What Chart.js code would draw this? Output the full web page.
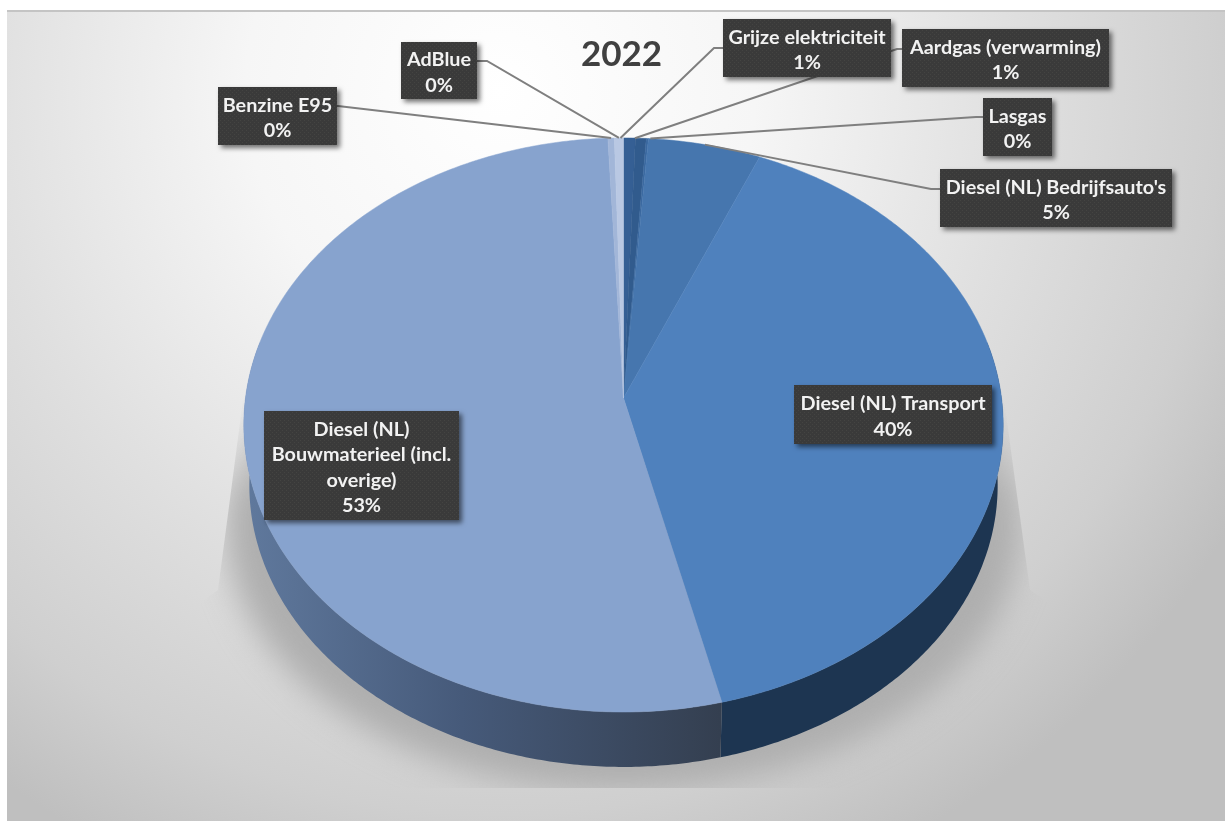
<!DOCTYPE html>
<html>
<head>
<meta charset="utf-8">
<title>2022</title>
<script src="https://cdn.jsdelivr.net/npm/chart.js@4"></script>
<style>
    html, body { margin: 0; padding: 0; background: #fff; overflow: hidden; }
    #frame {
        position: absolute; left: 7px; top: 10px; width: 1218px; height: 811px;
        border-top: 2px solid #c4c4c4; box-sizing: border-box;
        background: radial-gradient(ellipse 850px 850px at 493px 80px, #ffffff 0%, #f6f6f6 30%, #e0e0e0 60%, #cfcfcf 85%, #bfbfbf 100%);
    }
    #chart-wrap { position: absolute; left: 0; top: 0; width: 1225px; height: 821px; }
</style>
</head>
<body>
<div id="frame"></div>
<div id="chart-wrap"><canvas id="pie"></canvas></div>
<script>
const categories = ['Grijze elektriciteit', 'Aardgas (verwarming)', 'Lasgas', "Diesel (NL) Bedrijfsauto's",
    'Diesel (NL) Transport', 'Diesel (NL) Bouwmaterieel (incl. overige)', 'Benzine E95', 'AdBlue'];
const values = [0.55, 0.5, 0.1, 5.25, 39.8, 53.08, 0.3, 0.42];
const percentLabels = ['1%', '1%', '0%', '5%', '40%', '53%', '0%', '0%'];
const sliceColors = ['#355f94', '#315b8d', '#3a689f', '#4676ae', '#4f81bd', '#87a3ce', '#a2b6d8', '#b9c8e3'];
const sideColors = ['#16263c', '#182a42', '#1a2d46', '#1b304c', '#1d3551', null, '#5c7499', '#6a85ad'];

// label boxes: x, y, w, h, wrapped text lines, leader elbow, nudge of the leader end
const labelLayout = [
    { x: 723, y: 19, w: 168, h: 58, lines: ['Grijze elektriciteit'], elbow: [714, 48], nudge: [-9, 0] },
    { x: 902, y: 29, w: 207, h: 58, lines: ['Aardgas (verwarming)'], elbow: [897, 49], nudge: [-6, 0] },
    { x: 983, y: 98, w: 69, h: 58, lines: ['Lasgas'], elbow: [976, 117], nudge: [3, 0] },
    { x: 940, y: 169, w: 232, h: 58, lines: ["Diesel (NL) Bedrijfsauto's"], elbow: [931, 189], nudge: [0, 0] },
    { x: 794, y: 385, w: 198, h: 59, lines: ['Diesel (NL) Transport'] },
    { x: 264, y: 411, w: 195, h: 109, lines: ['Diesel (NL)', 'Bouwmaterieel (incl.', 'overige)'] },
    { x: 218, y: 87, w: 119, h: 58, lines: ['Benzine E95'], elbow: [338, 106], nudge: [0, 0] },
    { x: 401, y: 42, w: 76, h: 57, lines: ['AdBlue'], elbow: [487, 61], nudge: [0, 0] }
];

// perspective of the pie top: apex at (cx, cy)
const pieTop = { cx: 623.5, cy: 398, k: 378, m: 284.5, p: -0.094 };
const pieBottom = { cx: 623.5, cy: 459, k: 372.5, m: 279, p: -0.094 };
const pieShadow = { cx: 623.5, cy: 525, k: 398, m: 266, p: 0 };

function project(view, angle) {
    const u = Math.cos(angle);
    const v = Math.sin(angle);
    const w = 1 + view.p * v;
    return [view.cx + view.k * u / w, view.cy + view.m * v / w];
}

function traceArc(ctx, view, from, to, moveFirst) {
    const steps = Math.max(2, Math.ceil(Math.abs(to - from) / 0.01));
    for (let i = 0; i <= steps; i++) {
        const pt = project(view, from + (to - from) * i / steps);
        if (i === 0 && moveFirst) ctx.moveTo(pt[0], pt[1]);
        else ctx.lineTo(pt[0], pt[1]);
    }
}

function drawShadow(ctx) {
    ctx.save();
    ctx.beginPath();
    ctx.moveTo(243, 400);
    ctx.lineTo(218, 590);
    ctx.lineTo(150, 640);
    ctx.lineTo(150, 788);
    ctx.lineTo(1100, 788);
    ctx.lineTo(1100, 640);
    ctx.lineTo(1030, 590);
    ctx.lineTo(1004, 400);
    ctx.closePath();
    ctx.clip();
    const fade = ctx.createLinearGradient(0, 410, 0, 500);
    fade.addColorStop(0, 'rgba(174,174,174,0.35)');
    fade.addColorStop(1, 'rgba(174,174,174,1)');
    ctx.filter = 'blur(16px)';
    ctx.fillStyle = fade;
    ctx.beginPath();
    traceArc(ctx, pieShadow, 0, Math.PI * 2, true);
    ctx.closePath();
    ctx.fill();
    ctx.restore();
}

function drawSides(ctx, arcs) {
    arcs.forEach((arc, i) => {
        const from = Math.max(arc.startAngle, -0.2);
        const to = Math.min(arc.endAngle, Math.PI + 0.2);
        if (to <= from) return;
        let fill = sideColors[i];
        if (!fill) {
            fill = ctx.createLinearGradient(250, 0, 720, 0);
            fill.addColorStop(0, '#5f789c');
            fill.addColorStop(0.45, '#465a7a');
            fill.addColorStop(1, '#343f50');
        }
        ctx.fillStyle = fill;
        ctx.beginPath();
        traceArc(ctx, pieTop, from, to, true);
        traceArc(ctx, pieBottom, to, from, false);
        ctx.closePath();
        ctx.fill();
    });
}

function drawTops(ctx, arcs) {
    arcs.forEach((arc, i) => {
        ctx.fillStyle = sliceColors[i];
        ctx.strokeStyle = sliceColors[i];
        ctx.lineWidth = 0.5;
        ctx.beginPath();
        ctx.moveTo(pieTop.cx, pieTop.cy);
        traceArc(ctx, pieTop, arc.startAngle, arc.endAngle, false);
        ctx.closePath();
        ctx.fill();
        ctx.stroke();
    });
}

function makeDotPattern(ctx) {
    const tile = document.createElement('canvas');
    tile.width = 4;
    tile.height = 4;
    const t = tile.getContext('2d');
    t.fillStyle = '#3a3a3a';
    t.fillRect(0, 0, 4, 4);
    t.fillStyle = '#444442';
    t.fillRect(0, 0, 1, 1);
    t.fillRect(2, 2, 1, 1);
    return ctx.createPattern(tile, 'repeat');
}

function drawLeaders(ctx, arcs) {
    ctx.save();
    ctx.strokeStyle = '#7f7f7f';
    ctx.lineWidth = 2;
    labelLayout.forEach((lab, i) => {
        if (!lab.elbow) return;
        const mid = (arcs[i].startAngle + arcs[i].endAngle) / 2;
        const end = project(pieTop, mid);
        const boxEdge = lab.elbow[0] < lab.x ? lab.x : lab.x + lab.w;
        ctx.beginPath();
        ctx.moveTo(boxEdge, lab.elbow[1]);
        ctx.lineTo(lab.elbow[0], lab.elbow[1]);
        ctx.lineTo(end[0] + lab.nudge[0], end[1] + lab.nudge[1]);
        ctx.stroke();
    });
    ctx.restore();
}

function drawLabels(ctx) {
    const pattern = makeDotPattern(ctx);
    const lineHeight = 25.5;
    labelLayout.forEach((lab, i) => {
        ctx.save();
        ctx.shadowColor = 'rgba(0,0,0,0.55)';
        ctx.shadowBlur = 5;
        ctx.shadowOffsetX = 3;
        ctx.shadowOffsetY = 3;
        ctx.fillStyle = pattern;
        ctx.fillRect(lab.x, lab.y, lab.w, lab.h);
        ctx.restore();
        const rows = lab.lines.concat(percentLabels[i]);
        ctx.fillStyle = '#f2f2f2';
        ctx.font = 'bold 19.8px Lato';
        ctx.textAlign = 'center';
        ctx.textBaseline = 'middle';
        const top = lab.y + lab.h / 2 - (rows.length - 1) * lineHeight / 2 + 2;
        rows.forEach((row, r) => {
            ctx.fillText(row, lab.x + lab.w / 2, top + r * lineHeight);
        });
    });
}

const pie3d = {
    id: 'pie3d',
    beforeDatasetDraw(chart, args) {
        const ctx = chart.ctx;
        const arcs = chart.getDatasetMeta(args.index).data;
        drawShadow(ctx);
        drawSides(ctx, arcs);
        drawTops(ctx, arcs);
        return false;
    },
    afterDatasetsDraw(chart) {
        const ctx = chart.ctx;
        const arcs = chart.getDatasetMeta(0).data;
        drawLeaders(ctx, arcs);
        drawLabels(ctx);
    }
};

new Chart(document.getElementById('pie'), {
    type: 'pie',
    data: {
        labels: categories,
        datasets: [{ data: values, backgroundColor: sliceColors, borderWidth: 0 }]
    },
    options: {
        responsive: true,
        maintainAspectRatio: false,
        animation: false,
        layout: { padding: { left: 18, top: 34 } },
        plugins: {
            legend: { display: false },
            tooltip: { enabled: false },
            title: {
                display: true,
                text: '2022',
                color: '#404040',
                font: { family: 'Lato', size: 35, weight: 'bold' },
                padding: 0
            }
        }
    },
    plugins: [pie3d]
});
</script>
</body>
</html>
